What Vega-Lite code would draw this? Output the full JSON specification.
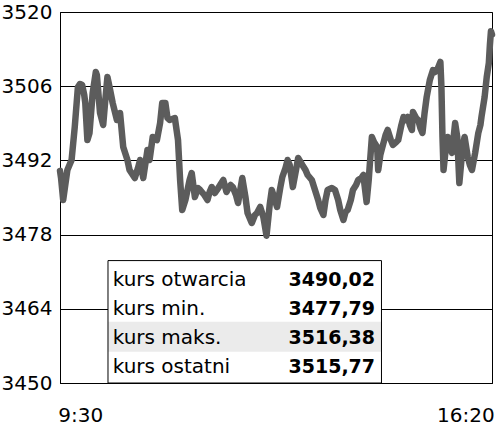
{
  "$schema": "https://vega.github.io/schema/vega-lite/v6.json",
  "width": 432,
  "height": 371,
  "autosize": {"type": "none"},
  "padding": {"left": 60, "top": 12, "right": 8, "bottom": 44},
  "background": "white",
  "config": {"view": {"stroke": "black", "strokeWidth": 1}, "font": "DejaVu Sans"},
  "resolve": {"scale": {"y": "independent"}, "axis": {"y": "independent"}},
  "layer": [
    {
      "data": {
        "format": {"parse": {"t": "date:'%H:%M'"}},
        "values": [
          {"t": "09:30", "v": 3490.02}, {"t": "09:31", "v": 3488.68}, {"t": "09:33", "v": 3484.53}, {"t": "09:35", "v": 3487.36},
          {"t": "09:37", "v": 3490.19}, {"t": "09:39", "v": 3491.13}, {"t": "09:41", "v": 3492.08}, {"t": "09:44", "v": 3498.30},
          {"t": "09:47", "v": 3505.85}, {"t": "09:49", "v": 3506.42}, {"t": "09:51", "v": 3506.23}, {"t": "09:53", "v": 3504.34},
          {"t": "09:54", "v": 3502.83}, {"t": "09:56", "v": 3495.85}, {"t": "09:58", "v": 3497.17}, {"t": "10:01", "v": 3504.72},
          {"t": "10:04", "v": 3508.68}, {"t": "10:05", "v": 3508.11}, {"t": "10:08", "v": 3500.94}, {"t": "10:11", "v": 3498.68},
          {"t": "10:13", "v": 3503.40}, {"t": "10:15", "v": 3507.74}, {"t": "10:17", "v": 3505.85}, {"t": "10:20", "v": 3502.83},
          {"t": "10:24", "v": 3499.62}, {"t": "10:27", "v": 3500.94}, {"t": "10:30", "v": 3494.53}, {"t": "10:34", "v": 3492.08},
          {"t": "10:36", "v": 3490.19}, {"t": "10:41", "v": 3488.68}, {"t": "10:44", "v": 3490.57}, {"t": "10:46", "v": 3492.08},
          {"t": "10:49", "v": 3488.68}, {"t": "10:53", "v": 3493.96}, {"t": "10:55", "v": 3492.08}, {"t": "10:58", "v": 3496.42},
          {"t": "11:02", "v": 3495.85}, {"t": "11:05", "v": 3499.06}, {"t": "11:07", "v": 3502.83}, {"t": "11:10", "v": 3502.83},
          {"t": "11:12", "v": 3500.00}, {"t": "11:14", "v": 3499.62}, {"t": "11:19", "v": 3500.00}, {"t": "11:22", "v": 3495.85},
          {"t": "11:24", "v": 3488.30}, {"t": "11:26", "v": 3482.64}, {"t": "11:29", "v": 3484.53}, {"t": "11:31", "v": 3486.42},
          {"t": "11:33", "v": 3488.30}, {"t": "11:35", "v": 3489.62}, {"t": "11:38", "v": 3485.09}, {"t": "11:41", "v": 3486.79},
          {"t": "11:43", "v": 3486.42}, {"t": "11:47", "v": 3485.47}, {"t": "11:50", "v": 3484.53}, {"t": "11:52", "v": 3486.04},
          {"t": "11:54", "v": 3486.98}, {"t": "11:57", "v": 3485.85}, {"t": "11:59", "v": 3486.42}, {"t": "12:02", "v": 3487.36},
          {"t": "12:05", "v": 3488.30}, {"t": "12:08", "v": 3486.04}, {"t": "12:09", "v": 3486.42}, {"t": "12:12", "v": 3487.36},
          {"t": "12:14", "v": 3486.98}, {"t": "12:17", "v": 3485.47}, {"t": "12:19", "v": 3483.96}, {"t": "12:23", "v": 3488.68},
          {"t": "12:26", "v": 3485.09}, {"t": "12:28", "v": 3482.08}, {"t": "12:32", "v": 3480.19}, {"t": "12:35", "v": 3481.70},
          {"t": "12:37", "v": 3482.08}, {"t": "12:40", "v": 3483.21}, {"t": "12:43", "v": 3481.32}, {"t": "12:46", "v": 3477.79},
          {"t": "12:49", "v": 3483.58}, {"t": "12:51", "v": 3486.42}, {"t": "12:54", "v": 3484.53}, {"t": "12:56", "v": 3483.21},
          {"t": "12:59", "v": 3486.79}, {"t": "13:01", "v": 3488.87}, {"t": "13:04", "v": 3490.57}, {"t": "13:06", "v": 3492.08},
          {"t": "13:08", "v": 3491.13}, {"t": "13:11", "v": 3486.98}, {"t": "13:14", "v": 3490.19}, {"t": "13:16", "v": 3492.45},
          {"t": "13:20", "v": 3491.13}, {"t": "13:23", "v": 3490.19}, {"t": "13:25", "v": 3489.25}, {"t": "13:29", "v": 3488.30},
          {"t": "13:32", "v": 3486.42}, {"t": "13:35", "v": 3484.53}, {"t": "13:37", "v": 3483.02}, {"t": "13:40", "v": 3481.70},
          {"t": "13:42", "v": 3484.53}, {"t": "13:44", "v": 3486.42}, {"t": "13:48", "v": 3486.79}, {"t": "13:51", "v": 3486.42},
          {"t": "13:54", "v": 3484.53}, {"t": "13:56", "v": 3482.64}, {"t": "13:59", "v": 3480.75}, {"t": "14:01", "v": 3482.26},
          {"t": "14:03", "v": 3482.64}, {"t": "14:06", "v": 3484.53}, {"t": "14:08", "v": 3486.42}, {"t": "14:11", "v": 3487.36},
          {"t": "14:13", "v": 3488.30}, {"t": "14:16", "v": 3488.68}, {"t": "14:18", "v": 3489.25}, {"t": "14:19", "v": 3487.36},
          {"t": "14:21", "v": 3484.15}, {"t": "14:23", "v": 3488.30}, {"t": "14:24", "v": 3491.13}, {"t": "14:26", "v": 3496.42},
          {"t": "14:28", "v": 3495.47}, {"t": "14:31", "v": 3494.53}, {"t": "14:32", "v": 3490.19}, {"t": "14:34", "v": 3493.02},
          {"t": "14:37", "v": 3495.28}, {"t": "14:39", "v": 3496.79}, {"t": "14:41", "v": 3497.74}, {"t": "14:44", "v": 3495.85},
          {"t": "14:46", "v": 3494.91}, {"t": "14:49", "v": 3495.47}, {"t": "14:51", "v": 3495.85}, {"t": "14:54", "v": 3498.68},
          {"t": "14:56", "v": 3500.19}, {"t": "14:58", "v": 3499.62}, {"t": "15:00", "v": 3500.19}, {"t": "15:02", "v": 3498.68},
          {"t": "15:04", "v": 3497.74}, {"t": "15:05", "v": 3501.13}, {"t": "15:08", "v": 3500.00}, {"t": "15:10", "v": 3499.62},
          {"t": "15:12", "v": 3498.11}, {"t": "15:14", "v": 3497.17}, {"t": "15:16", "v": 3500.94}, {"t": "15:18", "v": 3503.96},
          {"t": "15:21", "v": 3507.17}, {"t": "15:24", "v": 3509.06}, {"t": "15:26", "v": 3508.68}, {"t": "15:28", "v": 3509.06},
          {"t": "15:31", "v": 3510.57}, {"t": "15:32", "v": 3505.85}, {"t": "15:33", "v": 3496.42}, {"t": "15:34", "v": 3490.19},
          {"t": "15:36", "v": 3493.96}, {"t": "15:38", "v": 3496.42}, {"t": "15:40", "v": 3494.91}, {"t": "15:42", "v": 3493.40},
          {"t": "15:45", "v": 3499.06}, {"t": "15:47", "v": 3496.42}, {"t": "15:49", "v": 3487.74}, {"t": "15:51", "v": 3492.08},
          {"t": "15:52", "v": 3494.53}, {"t": "15:54", "v": 3496.42}, {"t": "15:57", "v": 3492.64}, {"t": "15:59", "v": 3491.13},
          {"t": "16:01", "v": 3490.19}, {"t": "16:04", "v": 3493.40}, {"t": "16:07", "v": 3497.17}, {"t": "16:09", "v": 3498.68},
          {"t": "16:10", "v": 3500.19}, {"t": "16:13", "v": 3503.96}, {"t": "16:15", "v": 3507.74}, {"t": "16:17", "v": 3510.38},
          {"t": "16:18", "v": 3513.77}, {"t": "16:19", "v": 3516.38}, {"t": "16:20", "v": 3515.77}
        ]
      },
      "mark": {"type": "line", "stroke": "#5c5c5c", "strokeWidth": 6.5, "strokeCap": "round", "strokeJoin": "round"},
      "encoding": {
        "x": {
          "field": "t", "type": "temporal",
          "scale": {"domain": [{"year": 1900, "month": 1, "date": 1, "hours": 9, "minutes": 30}, {"year": 1900, "month": 1, "date": 1, "hours": 16, "minutes": 20}], "nice": false},
          "axis": {
            "title": null,
            "values": [{"year": 1900, "month": 1, "date": 1, "hours": 9, "minutes": 30}, {"year": 1900, "month": 1, "date": 1, "hours": 16, "minutes": 20}],
            "format": "%-H:%M", "labelFlush": true, "labelFlushOffset": 2.25, "labelDx": 3.75, "ticks": false, "grid": false,
            "domain": true, "domainColor": "black", "domainWidth": 1,
            "labelFont": "DejaVu Sans", "labelFontSize": 20, "labelColor": "black", "labelPadding": 22
          }
        },
        "y": {
          "field": "v", "type": "quantitative",
          "scale": {"domain": [3450, 3520], "nice": false, "zero": false},
          "axis": {
            "title": null, "values": [3450, 3464, 3478, 3492, 3506, 3520], "format": "d",
            "grid": true, "gridColor": "black", "gridOpacity": 1, "gridWidth": 1,
            "ticks": false, "domain": true, "domainColor": "black", "domainWidth": 1,
            "labelFont": "DejaVu Sans", "labelFontSize": 20, "labelColor": "black", "labelPadding": 8, "labelFlush": false
          }
        }
      }
    },
    {
      "data": {"values": [
        {"row": 1, "label": "kurs otwarcia", "value": "3490,02"},
        {"row": 2, "label": "kurs min.", "value": "3477,79"},
        {"row": 3, "label": "kurs maks.", "value": "3516,38"},
        {"row": 4, "label": "kurs ostatni", "value": "3515,77"}
      ]},
      "layer": [
        {
          "data": {"values": [{}]},
          "mark": {"type": "rect", "fill": "white"},
          "encoding": {
            "x": {"datum": {"year": 1900, "month": 1, "date": 1, "hours": 10, "minutes": 15, "seconds": 33}, "type": "temporal"},
            "x2": {"datum": {"year": 1900, "month": 1, "date": 1, "hours": 14, "minutes": 35, "seconds": 6}},
            "y": {"datum": 0.11, "type": "quantitative", "scale": {"domain": [-8.5, 4.35], "reverse": true, "nice": false, "zero": false}, "axis": null},
            "y2": {"datum": 4.35}
          }
        },
        {
          "data": {"values": [{}]},
          "mark": {"type": "rect", "fill": "#ebebeb"},
          "encoding": {
            "x": {"datum": {"year": 1900, "month": 1, "date": 1, "hours": 10, "minutes": 15, "seconds": 33}, "type": "temporal"},
            "x2": {"datum": {"year": 1900, "month": 1, "date": 1, "hours": 14, "minutes": 35, "seconds": 6}},
            "y": {"datum": 2.23, "type": "quantitative", "scale": {"domain": [-8.5, 4.35], "reverse": true, "nice": false, "zero": false}, "axis": null},
            "y2": {"datum": 3.27}
          }
        },
        {
          "data": {"values": [{}]},
          "mark": {"type": "rect", "fillOpacity": 0, "stroke": "black", "strokeWidth": 1},
          "encoding": {
            "x": {"datum": {"year": 1900, "month": 1, "date": 1, "hours": 10, "minutes": 15, "seconds": 33}, "type": "temporal"},
            "x2": {"datum": {"year": 1900, "month": 1, "date": 1, "hours": 14, "minutes": 35, "seconds": 6}},
            "y": {"datum": 0.11, "type": "quantitative", "scale": {"domain": [-8.5, 4.35], "reverse": true, "nice": false, "zero": false}, "axis": null},
            "y2": {"datum": 4.35}
          }
        },
        {
          "mark": {"type": "text", "align": "left", "baseline": "alphabetic", "font": "DejaVu Sans", "fontSize": 20, "color": "black"},
          "encoding": {
            "x": {"datum": {"year": 1900, "month": 1, "date": 1, "hours": 10, "minutes": 20}, "type": "temporal"},
            "y": {"field": "row", "type": "quantitative", "scale": {"domain": [-8.5, 4.35], "reverse": true, "nice": false, "zero": false}, "axis": null},
            "text": {"field": "label"}
          }
        },
        {
          "mark": {"type": "text", "align": "right", "baseline": "alphabetic", "font": "DejaVu Sans", "fontSize": 19, "fontWeight": "bold", "color": "black"},
          "encoding": {
            "x": {"datum": {"year": 1900, "month": 1, "date": 1, "hours": 14, "minutes": 29}, "type": "temporal"},
            "y": {"field": "row", "type": "quantitative", "scale": {"domain": [-8.5, 4.35], "reverse": true, "nice": false, "zero": false}, "axis": null},
            "text": {"field": "value"}
          }
        }
      ]
    }
  ]
}
